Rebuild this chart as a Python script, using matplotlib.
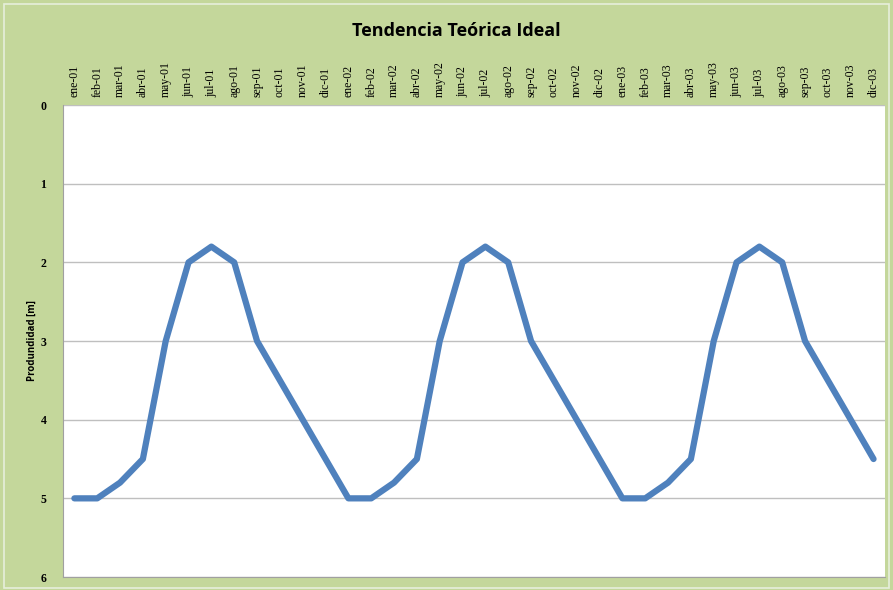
import matplotlib.pyplot as plt
from matplotlib.patches import Rectangle

# datos: profundidad teorica mensual (m)
meses = ["ene", "feb", "mar", "abr", "may", "jun", "jul", "ago", "sep", "oct", "nov", "dic"]
anios = ["01", "02", "03"]
etiquetas = [f"{m}-{a}" for a in anios for m in meses]
ciclo = [5, 5, 4.8, 4.5, 3, 2, 1.8, 2, 3, 3.5, 4, 4.5]
profundidad = ciclo * 3

fig = plt.figure(figsize=(8.93, 5.9), dpi=100)
fig.patch.set_facecolor("#c4d79b")
fig.patches.append(Rectangle((0.004, 0.004), 0.992, 0.99, transform=fig.transFigure,
                             fill=False, edgecolor="#e6eedb", linewidth=1.2))

ax = fig.add_axes([0.0705, 0.022, 0.9205, 0.800])
ax.set_facecolor("white")
x = list(range(len(etiquetas)))
ax.plot(x, profundidad, color="#4f81bd", linewidth=4.5, solid_capstyle="round",
        solid_joinstyle="round")

ax.set_xlim(-0.5, len(etiquetas) - 0.5)
ax.set_ylim(6, 0)
ax.set_yticks(range(0, 7))
ax.yaxis.grid(True, color="#bfbfbf", linewidth=1)
ax.set_axisbelow(True)

ax.xaxis.tick_top()
ax.set_xticks(x)
ax.set_xticklabels(etiquetas, rotation=90, fontsize=8.5, family="Liberation Serif")
ax.tick_params(axis="x", length=0, pad=6)
ax.tick_params(axis="y", length=0, pad=12, labelsize=8.5)
for t in ax.get_yticklabels():
    t.set_family("Liberation Serif")
    t.set_fontweight("bold")

for s in ["top", "right"]:
    ax.spines[s].set_visible(False)
ax.spines["left"].set_color("#a0a0a0")
ax.spines["bottom"].set_color("#a0a0a0")

ax.set_ylabel("Produndidad [m]", fontsize=7, fontweight="bold", family="Open Sans", labelpad=2)
fig.text(0.511, 0.948, "Tendencia Teórica Ideal", ha="center", va="center",
         fontsize=13, fontweight="bold", family="Open Sans")

fig.savefig("out.png", dpi=100, facecolor=fig.get_facecolor())
